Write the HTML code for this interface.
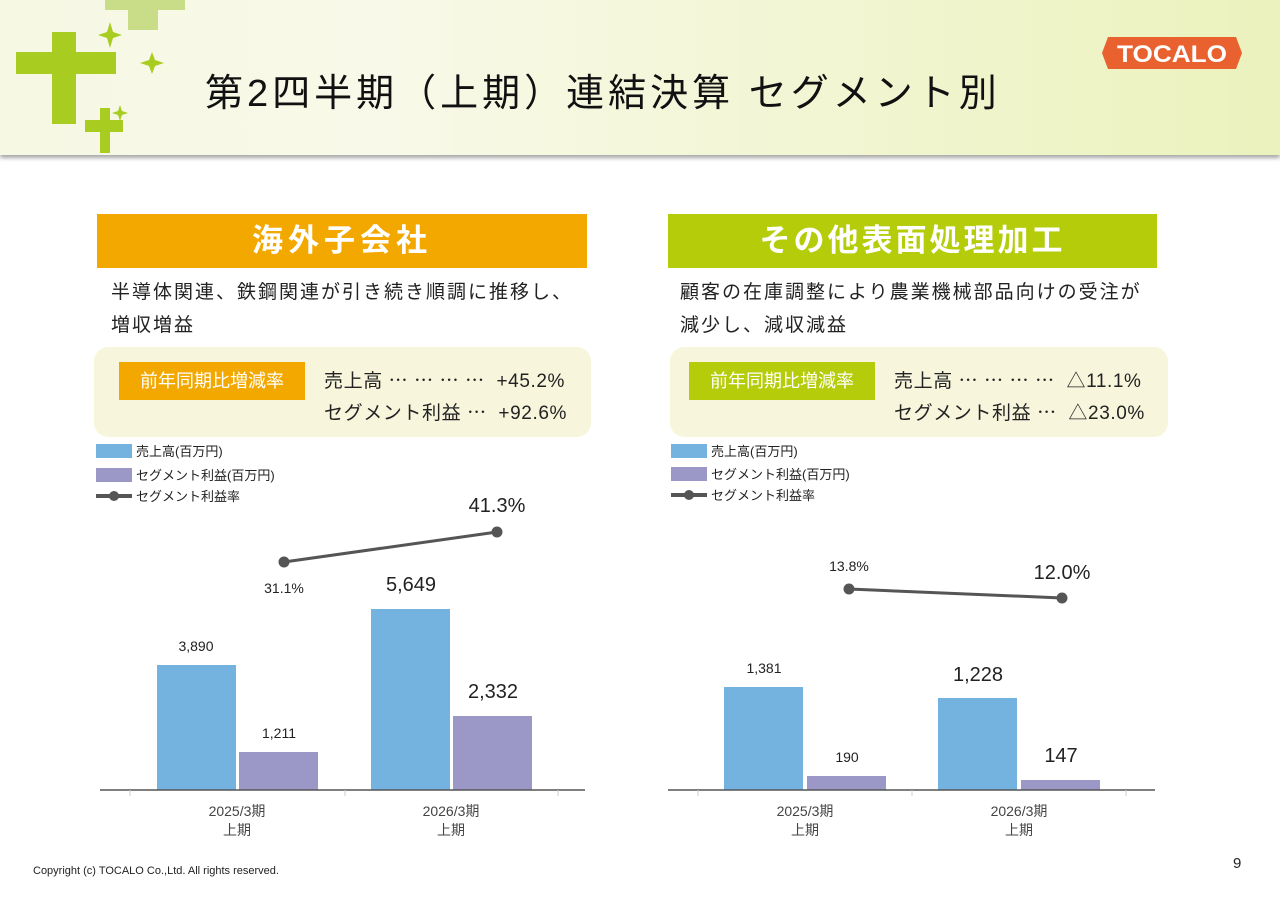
<!DOCTYPE html>
<html><head><meta charset="utf-8"><style>
body{margin:0;width:1280px;height:905px;background:#fff;position:relative;overflow:hidden;font-family:"Liberation Sans","Noto Sans CJK JP",sans-serif;color:#222}
.a{position:absolute;white-space:nowrap}
.hdr{position:absolute;left:0;top:0;width:1280px;height:155px;background:linear-gradient(90deg,#f6f8e4 0%,#f8f9e8 30%,#f1f5cf 70%,#ebf2bd 100%);box-shadow:0 3px 4px rgba(0,0,0,.35)}
.band{position:absolute;height:54px;color:#fff;font-size:31px;font-weight:bold;text-align:center;line-height:54px;letter-spacing:5px}
.box{position:absolute;background:#f7f6dc;border-radius:14px;height:90px}
.tag{position:absolute;color:#fff;font-size:18px;text-align:center;line-height:38px;height:38px}
.t18{font-size:19px;letter-spacing:0.6px}
.desc{font-size:19px;line-height:33px;letter-spacing:2px}
</style></head><body>
<div class="hdr"></div>
<svg class="a" style="left:0;top:0" width="200" height="160">
<g fill="#a8cc1f">
<path d="M52 32h24v20h40v22h-40v50h-24v-50h-36v-22h36z"/>
<rect x="100" y="108" width="10" height="45"/><rect x="85" y="120" width="38" height="12"/>
<path d="M110 22l3 10 9 3-9 3-3 10-3-10-9-3 9-3z"/>
<path d="M152 52l3 8 9 3-9 3-3 8-3-8-9-3 9-3z"/>
<path d="M120 105l2 6 6 2-6 2-2 6-2-6-6-2 6-2z"/>
<rect x="128" y="0" width="30" height="30" fill="#c9dd88"/><rect x="105" y="0" width="80" height="10" fill="#c9dd88"/>
</g></svg>
<div class="a" style="left:205px;top:62px;font-size:38px;color:#111;letter-spacing:4px">第2四半期（上期）連結決算 セグメント別</div>
<svg class="a" style="left:1102px;top:33px" width="140" height="40"><path d="M6 4h128l6 16-6 16H6L0 20z" fill="#e9612f"/><text x="70" y="29" fill="#fff" font-size="24" font-weight="bold" text-anchor="middle" font-family="Liberation Sans" textLength="110" lengthAdjust="spacingAndGlyphs">TOCALO</text></svg>

<div class="band" style="left:97px;top:214px;width:490px;background:#f3a800">海外子会社</div>
<div class="band" style="left:668px;top:214px;width:489px;background:#b5cc0a;letter-spacing:3px">その他表面処理加工</div>
<div class="a desc" style="left:111px;top:276px">半導体関連、鉄鋼関連が引き続き順調に推移し、<br>増収増益</div>
<div class="a desc" style="left:680px;top:276px">顧客の在庫調整により農業機械部品向けの受注が<br>減少し、減収減益</div>

<div class="box" style="left:94px;top:347px;width:497px"></div>
<div class="tag" style="left:119px;top:362px;width:186px;background:#f3a800">前年同期比増減率</div>
<div class="a t18" style="left:324px;top:366px">売上高 ⋯ ⋯ ⋯ ⋯&nbsp; +45.2%</div>
<div class="a t18" style="left:324px;top:398px">セグメント利益 ⋯&nbsp; +92.6%</div>

<div class="box" style="left:670px;top:347px;width:498px"></div>
<div class="tag" style="left:689px;top:362px;width:186px;background:#b5cc0a">前年同期比増減率</div>
<div class="a t18" style="left:894px;top:366px">売上高 ⋯ ⋯ ⋯ ⋯&nbsp; △11.1%</div>
<div class="a t18" style="left:894px;top:398px">セグメント利益 ⋯&nbsp; △23.0%</div>

<svg class="a" style="left:0;top:440px" width="1280" height="420" font-family="Liberation Sans, Noto Sans CJK JP, sans-serif">
<g font-size="13" fill="#222">
<rect x="96" y="4" width="36" height="14" fill="#74b3e0"/><text x="136" y="16">売上高(百万円)</text>
<rect x="96" y="28" width="36" height="14" fill="#9b98c8"/><text x="136" y="40">セグメント利益(百万円)</text>
<line x1="96" y1="56" x2="132" y2="56" stroke="#555" stroke-width="4"/><circle cx="114" cy="56" r="5" fill="#555"/><text x="136" y="61">セグメント利益率</text>
<rect x="671" y="4" width="36" height="14" fill="#74b3e0"/><text x="711" y="16">売上高(百万円)</text>
<rect x="671" y="27" width="36" height="14" fill="#9b98c8"/><text x="711" y="39">セグメント利益(百万円)</text>
<line x1="671" y1="55" x2="707" y2="55" stroke="#555" stroke-width="4"/><circle cx="689" cy="55" r="5" fill="#555"/><text x="711" y="60">セグメント利益率</text>
</g>
<g fill="#74b3e0"><rect x="157" y="225" width="79" height="125"/><rect x="371" y="169" width="79" height="181"/><rect x="724" y="247" width="79" height="103"/><rect x="938" y="258" width="79" height="92"/></g>
<g fill="#9b98c8"><rect x="239" y="312" width="79" height="38"/><rect x="453" y="276" width="79" height="74"/><rect x="807" y="336" width="79" height="14"/><rect x="1021" y="340" width="79" height="10"/></g>
<g stroke="#555" stroke-width="1.5"><line x1="100" y1="350" x2="585" y2="350"/><line x1="668" y1="350" x2="1155" y2="350"/></g>
<g stroke="#ccc"><line x1="130" y1="350" x2="130" y2="356"/><line x1="345" y1="350" x2="345" y2="356"/><line x1="558" y1="350" x2="558" y2="356"/><line x1="698" y1="350" x2="698" y2="356"/><line x1="912" y1="350" x2="912" y2="356"/><line x1="1126" y1="350" x2="1126" y2="356"/></g>
<g stroke="#555" stroke-width="3" fill="#555"><line x1="284" y1="122" x2="497" y2="92"/><circle cx="284" cy="122" r="4"/><circle cx="497" cy="92" r="4"/>
<line x1="849" y1="149" x2="1062" y2="158"/><circle cx="849" cy="149" r="4"/><circle cx="1062" cy="158" r="4"/></g>
<g text-anchor="middle" fill="#222">
<text x="196" y="211" font-size="14">3,890</text><text x="279" y="298" font-size="14">1,211</text>
<text x="411" y="151" font-size="20">5,649</text><text x="493" y="258" font-size="20">2,332</text>
<text x="284" y="153" font-size="14">31.1%</text><text x="497" y="72" font-size="20">41.3%</text>
<text x="764" y="233" font-size="14">1,381</text><text x="847" y="322" font-size="14">190</text>
<text x="978" y="241" font-size="20">1,228</text><text x="1061" y="322" font-size="20">147</text>
<text x="849" y="131" font-size="14">13.8%</text><text x="1062" y="139" font-size="20">12.0%</text>
<g font-size="14" fill="#444"><text x="237" y="376">2025/3期</text><text x="237" y="395">上期</text><text x="451" y="376">2026/3期</text><text x="451" y="395">上期</text>
<text x="805" y="376">2025/3期</text><text x="805" y="395">上期</text><text x="1019" y="376">2026/3期</text><text x="1019" y="395">上期</text></g>
</g></svg>
<div class="a" style="left:33px;top:865px;font-size:11px">Copyright (c) TOCALO Co.,Ltd. All rights reserved.</div>
<div class="a" style="left:1233px;top:855px;font-size:15px">9</div>
</body></html>
